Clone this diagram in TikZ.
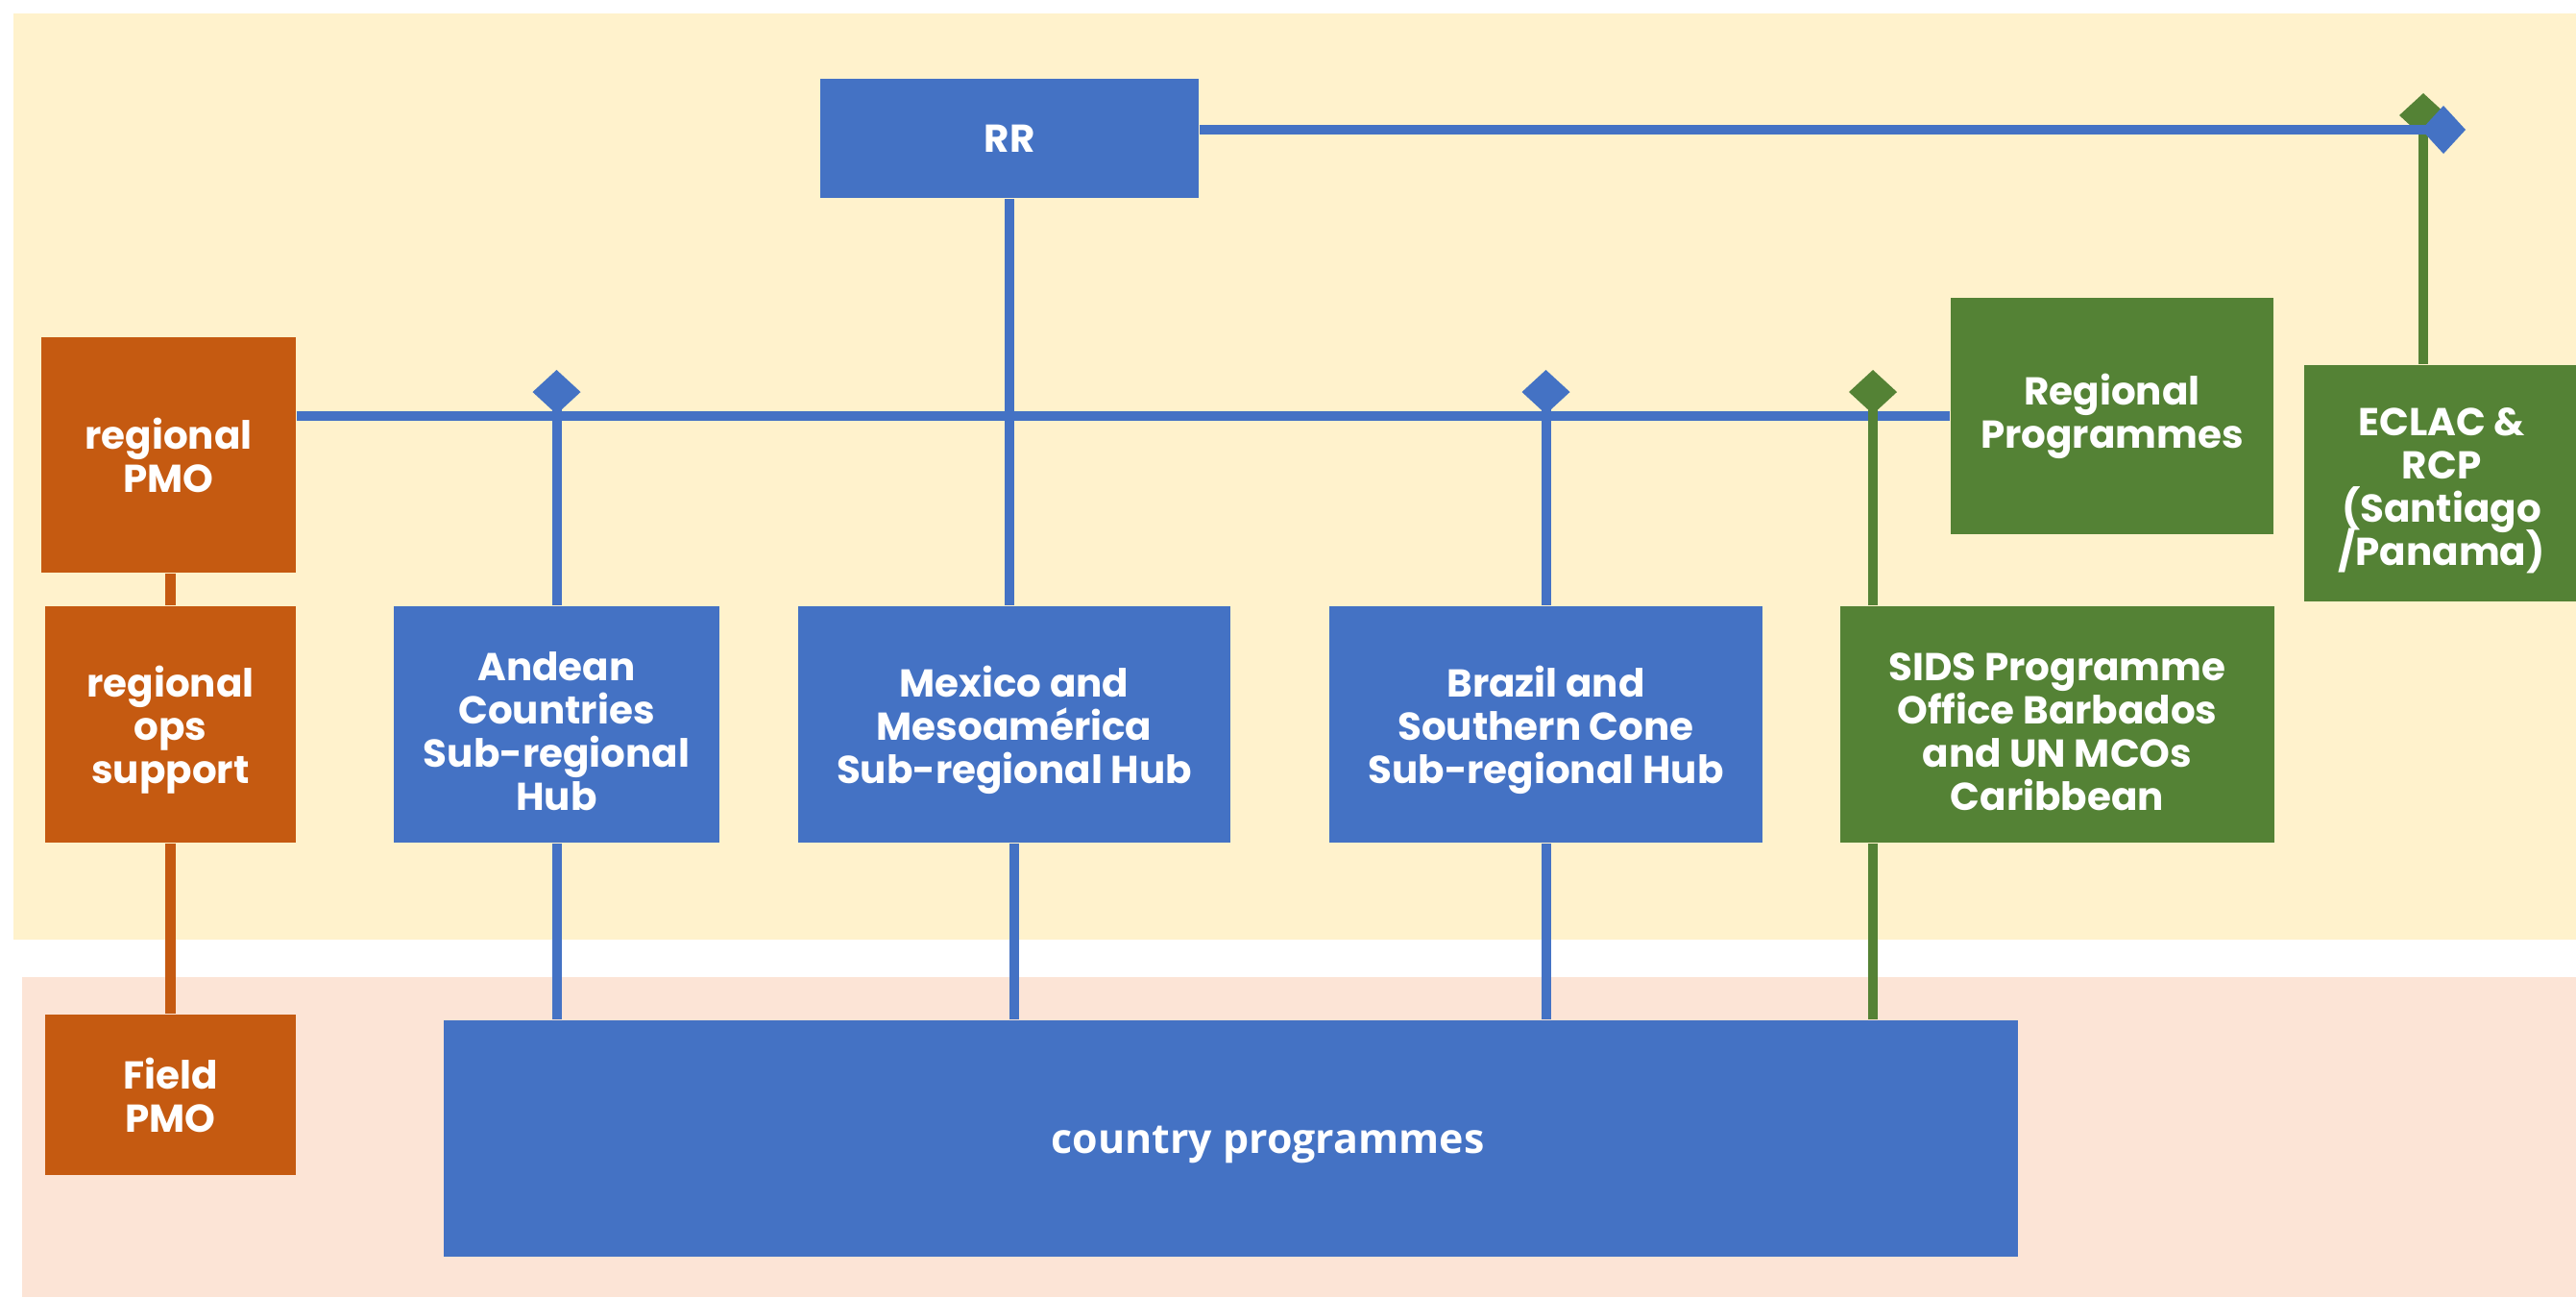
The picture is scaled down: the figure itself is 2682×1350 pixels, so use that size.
\documentclass[tikz,border=0pt]{standalone}
\usepackage{fontspec}
\setmainfont{Poppins}
\newfontfamily\cpfont{Open Sans}
\usetikzlibrary{arrows.meta,calc}
\newcommand\boxfont{\bfseries\fontsize{11.5}{12.8}\selectfont\lineskiplimit=-20pt\relax}
\newcommand\tallline{\vrule width 0pt height 12.5pt depth 0pt\relax}

\begin{document}
\begin{tikzpicture}[x=0.01cm, y=-0.01cm,
		box/.style={rectangle, inner sep=0, align=center, text=white, font=\boxfont},
		link/.style={line width=0.1cm},
		tip/.style={-{Diamond[length=0.46cm, width=0.5cm]}}]
		\definecolor{sblue}{HTML}{4472C4}
		\definecolor{sorange}{HTML}{C55A11}
		\definecolor{sgreen}{HTML}{548235}
		\definecolor{syellow}{HTML}{FFF2CC}
		\definecolor{spink}{HTML}{FCE4D6}
		\useasboundingbox (0,0) rectangle (2682,1350);
		\fill[syellow] (14,14) rectangle (2682,978);
		\fill[spink] (23,1017) rectangle (2682,1350);
		% boxes
		\node (rr) at (1051,144) [box, fill=sblue, minimum width=3.94cm, minimum height=1.24cm] {RR};
		\node (pmo) at (175.5,473.5) [box, fill=sorange, minimum width=2.65cm, minimum height=2.45cm] {regional\\PMO};
		\node (ops) at (177.5,754) [box, fill=sorange, minimum width=2.61cm, minimum height=2.46cm] {\tallline regional\\ops\\support};
		\node (andean) at (579.5,754) [box, fill=sblue, minimum width=3.39cm, minimum height=2.46cm] {\tallline Andean\\Countries\\Sub-regional\\Hub};
		\node (mexico) at (1056,754) [box, fill=sblue, minimum width=4.50cm, minimum height=2.46cm] {\tallline Mexico and\\Mesoamérica\\Sub-regional Hub};
		\node (brazil) at (1609.5,754) [box, fill=sblue, minimum width=4.51cm, minimum height=2.46cm] {\tallline Brazil and\\Southern Cone\\Sub-regional Hub};
		\node (sids) at (2142,754) [box, fill=sgreen, minimum width=4.52cm, minimum height=2.46cm] {\tallline SIDS Programme\\Office Barbados\\and UN MCOs\\Caribbean};
		\node (regprog) at (2199,433) [box, fill=sgreen, minimum width=3.36cm, minimum height=2.46cm] {Regional\\Programmes};
		\node (eclac) at (2542,503) [box, fill=sgreen, minimum width=2.86cm, minimum height=2.46cm] {\tallline ECLAC \&\\RCP\\(Santiago\\/Panama)};
		\node (field) at (177.5,1139.5) [box, fill=sorange, minimum width=2.61cm, minimum height=1.67cm] {Field\\PMO};
		\node (cp) at (1281,1185) [box, fill=sblue, minimum width=16.38cm, minimum height=2.46cm, text height=0.3cm, text depth=0cm, font=\cpfont\bfseries\fontsize{12.2}{14}\selectfont] {\hspace*{0.78cm}country programmes};
		% connectors
		\coordinate (eclactop) at (2523,97);
		\coordinate (rrend) at (2567,135);
		\coordinate (tiptop) at (0,385);
		\coordinate (sidsx) at (1950,0);
		\draw[link, sgreen, tip] (eclac.north -| eclactop) -- (eclactop);
		\draw[link, sblue, tip] (rr.east |- rrend) -- (rrend);
		\draw[link, sblue] (rr.south) -- (rr.south |- mexico.north);
		\draw[link, sblue] (pmo.east |- regprog.west) -- (regprog.west);
		\draw[link, sblue, tip] (andean.north) -- (andean.north |- tiptop);
		\draw[link, sblue, tip] (brazil.north) -- (brazil.north |- tiptop);
		\draw[link, sgreen, tip] (sids.north -| sidsx) -- (tiptop -| sidsx);
		\draw[link, sblue] (andean.south) -- (andean.south |- cp.north);
		\draw[link, sblue] (mexico.south) -- (mexico.south |- cp.north);
		\draw[link, sblue] (brazil.south) -- (brazil.south |- cp.north);
		\draw[link, sgreen] (sids.south -| sidsx) -- (cp.north -| sidsx);
		\draw[link, sorange] (pmo.south -| ops.north) -- (ops.north);
		\draw[link, sorange] (ops.south) -- (field.north);
		\draw[link, sblue] ($(field.east)+(0,16)$) -- ($(field.east)+(0,16)$ -| cp.west);
	\end{tikzpicture}
\end{document}
